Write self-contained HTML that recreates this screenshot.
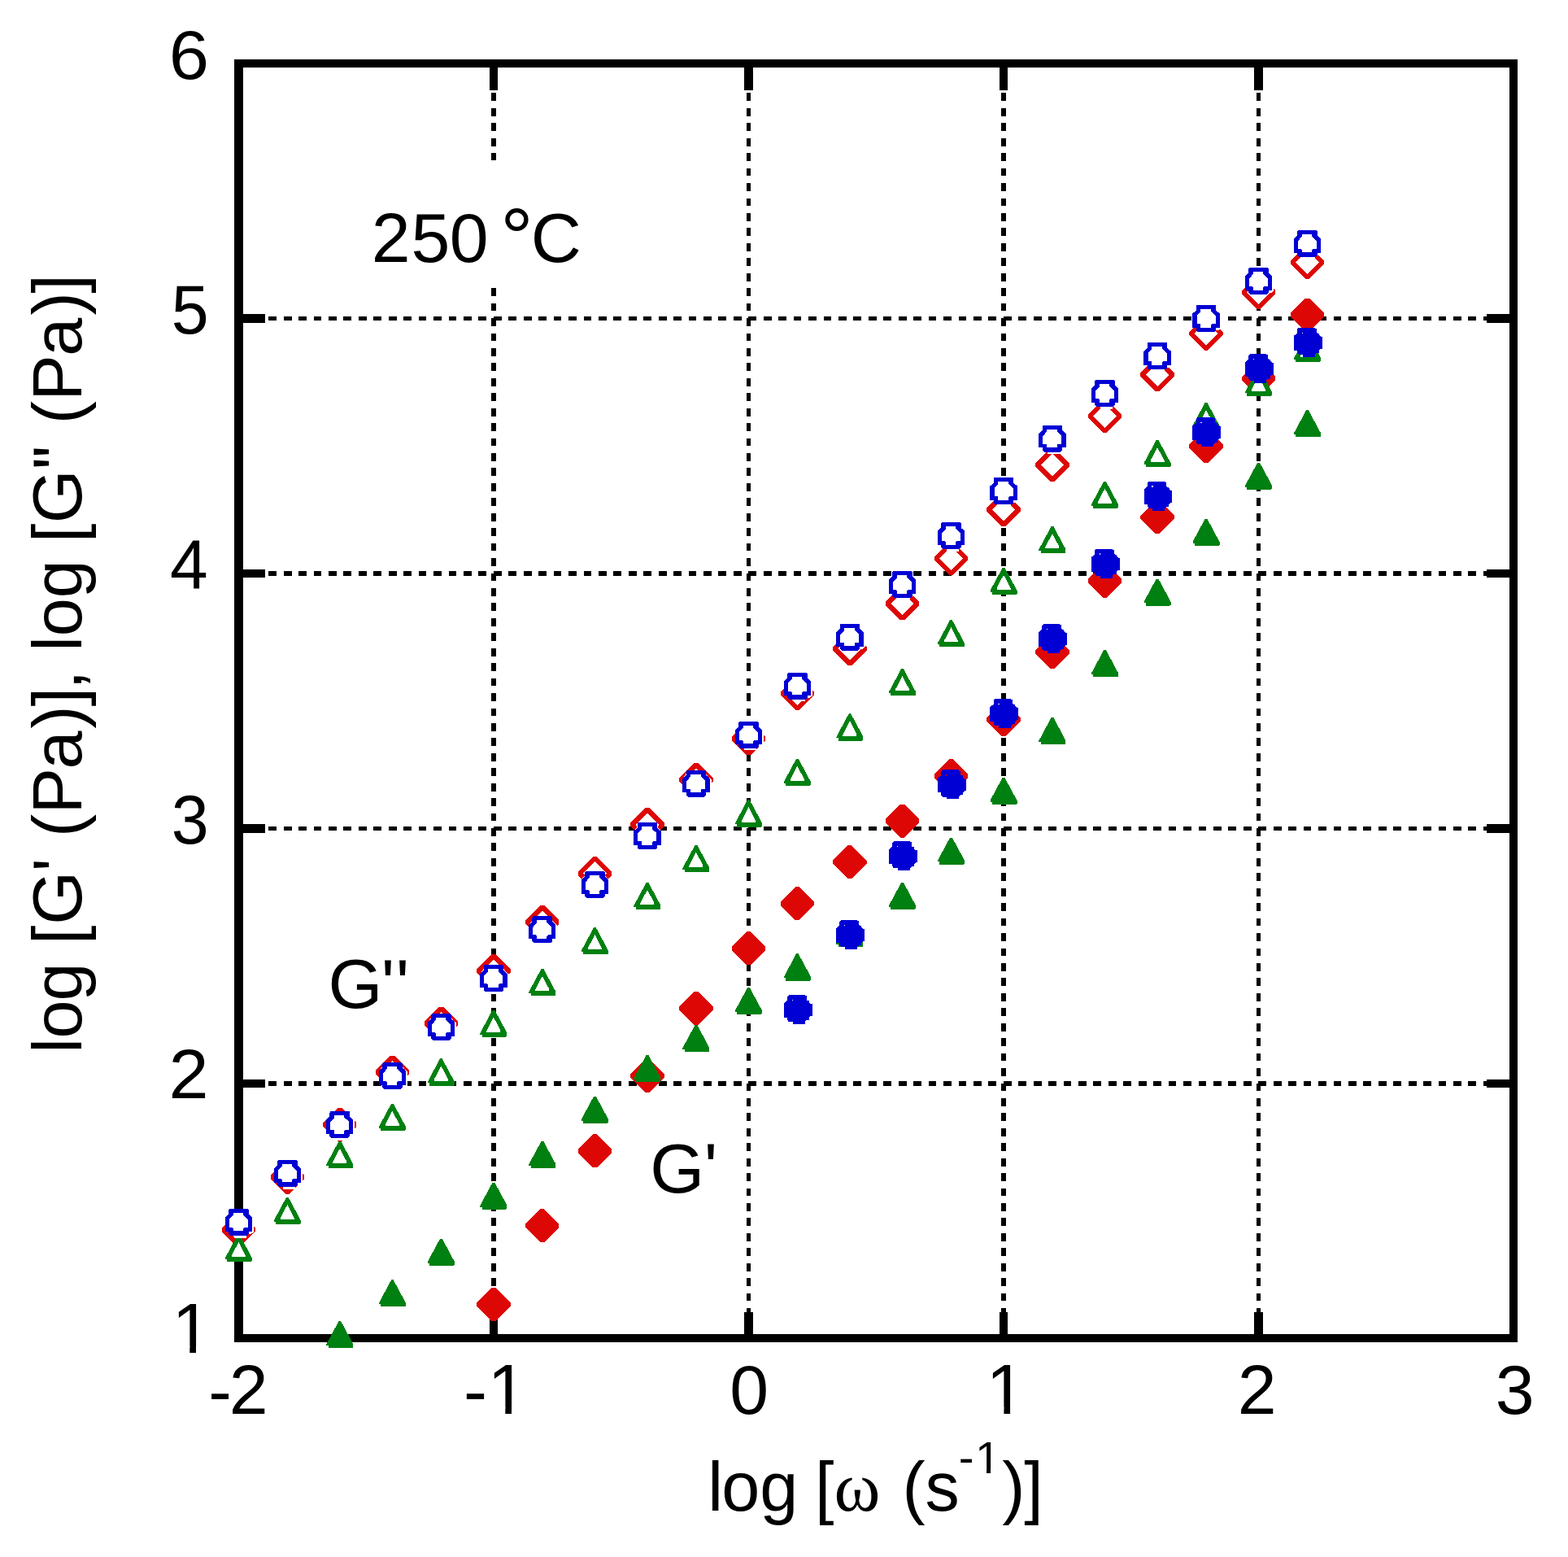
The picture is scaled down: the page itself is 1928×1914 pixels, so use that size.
<!DOCTYPE html>
<html lang="en">
<head>
<meta charset="utf-8">
<title>log G', log G'' versus log ω at 250 °C</title>
<style>
html,body{margin:0;padding:0;background:#fff;}
body{width:1928px;height:1914px;overflow:hidden;}
svg{display:block;}
text{font-family:'Liberation Sans', Arial, Helvetica, sans-serif;fill:#000;}
</style>
</head>
<body>
<svg width="1928" height="1914" viewBox="0 0 1928 1914" role="img" aria-label="log G' and log G'' versus log angular frequency at 250 °C">
<rect width="1928" height="1914" fill="#fff"/>
<g id="grid" stroke="#000" stroke-width="5.6" fill="none" shape-rendering="crispEdges">
<line x1="606.94" y1="77.59" x2="606.94" y2="1645.25" stroke-dasharray="9.8 8.64"/>
<line x1="920.49" y1="77.59" x2="920.49" y2="1645.25" stroke-dasharray="9.8 8.64"/>
<line x1="1234.04" y1="77.59" x2="1234.04" y2="1645.25" stroke-dasharray="9.8 8.64"/>
<line x1="1547.59" y1="77.59" x2="1547.59" y2="1645.25" stroke-dasharray="9.8 8.64"/>
<line x1="293.39" y1="391.61" x2="1861.13" y2="391.61" stroke-dasharray="9.8 8.64"/>
<line x1="293.39" y1="705.02" x2="1861.13" y2="705.02" stroke-dasharray="9.8 8.64"/>
<line x1="293.39" y1="1018.43" x2="1861.13" y2="1018.43" stroke-dasharray="9.8 8.64"/>
<line x1="293.39" y1="1331.84" x2="1861.13" y2="1331.84" stroke-dasharray="9.8 8.64"/>
</g>
<g id="axes" fill="#000" shape-rendering="crispEdges">
<rect x="288" y="73" width="11" height="1577"/>
<rect x="1856" y="73" width="10" height="1577"/>
<rect x="288" y="73" width="1578" height="10"/>
<rect x="288" y="1640" width="1578" height="10"/>
<rect x="601.74" y="83" width="10.4" height="28"/>
<rect x="601.74" y="1613" width="10.4" height="27"/>
<rect x="915.29" y="83" width="10.4" height="28"/>
<rect x="915.29" y="1613" width="10.4" height="27"/>
<rect x="1228.84" y="83" width="10.4" height="28"/>
<rect x="1228.84" y="1613" width="10.4" height="27"/>
<rect x="1542.38" y="83" width="10.4" height="28"/>
<rect x="1542.38" y="1613" width="10.4" height="27"/>
<rect x="299" y="386.41" width="27" height="10.4"/>
<rect x="1828" y="386.41" width="28" height="10.4"/>
<rect x="299" y="699.82" width="27" height="10.4"/>
<rect x="1828" y="699.82" width="28" height="10.4"/>
<rect x="299" y="1013.23" width="27" height="10.4"/>
<rect x="1828" y="1013.23" width="28" height="10.4"/>
<rect x="299" y="1326.64" width="27" height="10.4"/>
<rect x="1828" y="1326.64" width="28" height="10.4"/>
</g>
<rect x="440" y="197" width="300" height="157" fill="#fff"/>
<g id="markers" shape-rendering="crispEdges">
<g id="s-red-open"><path d="M290.99,1491.09L295.79,1491.09L313.99,1509.29L313.99,1513.89L295.79,1532.09L290.99,1532.09L272.79,1513.89L272.79,1509.29Z" fill="#fff"/><path d="M290.99,1491.09L295.79,1491.09L313.99,1509.29L313.99,1513.89L295.79,1532.09L290.99,1532.09L272.79,1513.89L272.79,1509.29ZM293.39,1497.29L307.69,1511.59L293.39,1525.89L279.09,1511.59Z" fill="#dd0806" fill-rule="evenodd"/><path d="M350.94,1426.57L355.74,1426.57L373.94,1444.77L373.94,1449.37L355.74,1467.57L350.94,1467.57L332.74,1449.37L332.74,1444.77Z" fill="#fff"/><path d="M350.94,1426.57L355.74,1426.57L373.94,1444.77L373.94,1449.37L355.74,1467.57L350.94,1467.57L332.74,1449.37L332.74,1444.77ZM353.34,1432.77L367.64,1447.07L353.34,1461.37L339.04,1447.07Z" fill="#dd0806" fill-rule="evenodd"/><path d="M415.49,1362.04L420.29,1362.04L438.49,1380.24L438.49,1384.84L420.29,1403.04L415.49,1403.04L397.29,1384.84L397.29,1380.24Z" fill="#fff"/><path d="M415.49,1362.04L420.29,1362.04L438.49,1380.24L438.49,1384.84L420.29,1403.04L415.49,1403.04L397.29,1384.84L397.29,1380.24ZM417.89,1368.24L432.19,1382.54L417.89,1396.84L403.59,1382.54Z" fill="#dd0806" fill-rule="evenodd"/><path d="M480.04,1297.52L484.84,1297.52L503.04,1315.72L503.04,1320.32L484.84,1338.52L480.04,1338.52L461.84,1320.32L461.84,1315.72Z" fill="#fff"/><path d="M480.04,1297.52L484.84,1297.52L503.04,1315.72L503.04,1320.32L484.84,1338.52L480.04,1338.52L461.84,1320.32L461.84,1315.72ZM482.44,1303.72L496.74,1318.02L482.44,1332.32L468.14,1318.02Z" fill="#dd0806" fill-rule="evenodd"/><path d="M539.99,1237.6L544.79,1237.6L562.99,1255.8L562.99,1260.4L544.79,1278.6L539.99,1278.6L521.79,1260.4L521.79,1255.8Z" fill="#fff"/><path d="M539.99,1237.6L544.79,1237.6L562.99,1255.8L562.99,1260.4L544.79,1278.6L539.99,1278.6L521.79,1260.4L521.79,1255.8ZM542.39,1243.8L556.69,1258.1L542.39,1272.4L528.09,1258.1Z" fill="#dd0806" fill-rule="evenodd"/><path d="M604.54,1173.07L609.34,1173.07L627.54,1191.27L627.54,1195.87L609.34,1214.07L604.54,1214.07L586.34,1195.87L586.34,1191.27Z" fill="#fff"/><path d="M604.54,1173.07L609.34,1173.07L627.54,1191.27L627.54,1195.87L609.34,1214.07L604.54,1214.07L586.34,1195.87L586.34,1191.27ZM606.94,1179.27L621.24,1193.57L606.94,1207.87L592.64,1193.57Z" fill="#dd0806" fill-rule="evenodd"/><path d="M664.48,1113.15L669.28,1113.15L687.48,1131.36L687.48,1135.95L669.28,1154.15L664.48,1154.15L646.28,1135.95L646.28,1131.36Z" fill="#fff"/><path d="M664.48,1113.15L669.28,1113.15L687.48,1131.36L687.48,1135.95L669.28,1154.15L664.48,1154.15L646.28,1135.95L646.28,1131.36ZM666.88,1119.36L681.18,1133.65L666.88,1147.95L652.58,1133.65Z" fill="#dd0806" fill-rule="evenodd"/><path d="M729.04,1053.24L733.84,1053.24L752.04,1071.44L752.04,1076.04L733.84,1094.24L729.04,1094.24L710.84,1076.04L710.84,1071.44Z" fill="#fff"/><path d="M729.04,1053.24L733.84,1053.24L752.04,1071.44L752.04,1076.04L733.84,1094.24L729.04,1094.24L710.84,1076.04L710.84,1071.44ZM731.44,1059.44L745.74,1073.74L731.44,1088.04L717.14,1073.74Z" fill="#dd0806" fill-rule="evenodd"/><path d="M793.59,993.32L798.39,993.32L816.59,1011.52L816.59,1016.12L798.39,1034.32L793.59,1034.32L775.39,1016.12L775.39,1011.52Z" fill="#fff"/><path d="M793.59,993.32L798.39,993.32L816.59,1011.52L816.59,1016.12L798.39,1034.32L793.59,1034.32L775.39,1016.12L775.39,1011.52ZM795.99,999.52L810.29,1013.82L795.99,1028.12L781.69,1013.82Z" fill="#dd0806" fill-rule="evenodd"/><path d="M853.53,938.01L858.33,938.01L876.53,956.21L876.53,960.81L858.33,979.01L853.53,979.01L835.33,960.81L835.33,956.21Z" fill="#fff"/><path d="M853.53,938.01L858.33,938.01L876.53,956.21L876.53,960.81L858.33,979.01L853.53,979.01L835.33,960.81L835.33,956.21ZM855.93,944.21L870.23,958.51L855.93,972.81L841.63,958.51Z" fill="#dd0806" fill-rule="evenodd"/><path d="M918.09,887.31L922.89,887.31L941.09,905.51L941.09,910.11L922.89,928.31L918.09,928.31L899.89,910.11L899.89,905.51Z" fill="#fff"/><path d="M918.09,887.31L922.89,887.31L941.09,905.51L941.09,910.11L922.89,928.31L918.09,928.31L899.89,910.11L899.89,905.51ZM920.49,893.51L934.79,907.81L920.49,922.11L906.19,907.81Z" fill="#dd0806" fill-rule="evenodd"/><path d="M978.03,832.01L982.83,832.01L1001.03,850.21L1001.03,854.81L982.83,873.01L978.03,873.01L959.83,854.81L959.83,850.21Z" fill="#fff"/><path d="M978.03,832.01L982.83,832.01L1001.03,850.21L1001.03,854.81L982.83,873.01L978.03,873.01L959.83,854.81L959.83,850.21ZM980.43,838.21L994.73,852.51L980.43,866.81L966.13,852.51Z" fill="#dd0806" fill-rule="evenodd"/><path d="M1042.59,776.7L1047.39,776.7L1065.59,794.9L1065.59,799.5L1047.39,817.7L1042.59,817.7L1024.39,799.5L1024.39,794.9Z" fill="#fff"/><path d="M1042.59,776.7L1047.39,776.7L1065.59,794.9L1065.59,799.5L1047.39,817.7L1042.59,817.7L1024.39,799.5L1024.39,794.9ZM1044.99,782.9L1059.29,797.2L1044.99,811.5L1030.69,797.2Z" fill="#dd0806" fill-rule="evenodd"/><path d="M1107.14,721.39L1111.94,721.39L1130.14,739.59L1130.14,744.19L1111.94,762.39L1107.14,762.39L1088.94,744.19L1088.94,739.59Z" fill="#fff"/><path d="M1107.14,721.39L1111.94,721.39L1130.14,739.59L1130.14,744.19L1111.94,762.39L1107.14,762.39L1088.94,744.19L1088.94,739.59ZM1109.54,727.59L1123.84,741.89L1109.54,756.19L1095.24,741.89Z" fill="#dd0806" fill-rule="evenodd"/><path d="M1167.08,666.08L1171.88,666.08L1190.08,684.28L1190.08,688.88L1171.88,707.08L1167.08,707.08L1148.88,688.88L1148.88,684.28Z" fill="#fff"/><path d="M1167.08,666.08L1171.88,666.08L1190.08,684.28L1190.08,688.88L1171.88,707.08L1167.08,707.08L1148.88,688.88L1148.88,684.28ZM1169.48,672.28L1183.78,686.58L1169.48,700.88L1155.18,686.58Z" fill="#dd0806" fill-rule="evenodd"/><path d="M1231.64,606.17L1236.44,606.17L1254.64,624.37L1254.64,628.97L1236.44,647.17L1231.64,647.17L1213.44,628.97L1213.44,624.37Z" fill="#fff"/><path d="M1231.64,606.17L1236.44,606.17L1254.64,624.37L1254.64,628.97L1236.44,647.17L1231.64,647.17L1213.44,628.97L1213.44,624.37ZM1234.04,612.37L1248.34,626.67L1234.04,640.97L1219.74,626.67Z" fill="#dd0806" fill-rule="evenodd"/><path d="M1291.58,550.86L1296.38,550.86L1314.58,569.06L1314.58,573.66L1296.38,591.86L1291.58,591.86L1273.38,573.66L1273.38,569.06Z" fill="#fff"/><path d="M1291.58,550.86L1296.38,550.86L1314.58,569.06L1314.58,573.66L1296.38,591.86L1291.58,591.86L1273.38,573.66L1273.38,569.06ZM1293.98,557.06L1308.28,571.36L1293.98,585.66L1279.68,571.36Z" fill="#dd0806" fill-rule="evenodd"/><path d="M1356.13,490.94L1360.93,490.94L1379.13,509.14L1379.13,513.74L1360.93,531.94L1356.13,531.94L1337.93,513.74L1337.93,509.14Z" fill="#fff"/><path d="M1356.13,490.94L1360.93,490.94L1379.13,509.14L1379.13,513.74L1360.93,531.94L1356.13,531.94L1337.93,513.74L1337.93,509.14ZM1358.53,497.14L1372.83,511.44L1358.53,525.74L1344.23,511.44Z" fill="#dd0806" fill-rule="evenodd"/><path d="M1420.69,440.24L1425.49,440.24L1443.69,458.44L1443.69,463.04L1425.49,481.24L1420.69,481.24L1402.49,463.04L1402.49,458.44Z" fill="#fff"/><path d="M1420.69,440.24L1425.49,440.24L1443.69,458.44L1443.69,463.04L1425.49,481.24L1420.69,481.24L1402.49,463.04L1402.49,458.44ZM1423.09,446.44L1437.39,460.74L1423.09,475.04L1408.79,460.74Z" fill="#dd0806" fill-rule="evenodd"/><path d="M1480.63,389.54L1485.43,389.54L1503.63,407.74L1503.63,412.34L1485.43,430.54L1480.63,430.54L1462.43,412.34L1462.43,407.74Z" fill="#fff"/><path d="M1480.63,389.54L1485.43,389.54L1503.63,407.74L1503.63,412.34L1485.43,430.54L1480.63,430.54L1462.43,412.34L1462.43,407.74ZM1483.03,395.74L1497.33,410.04L1483.03,424.34L1468.73,410.04Z" fill="#dd0806" fill-rule="evenodd"/><path d="M1545.18,338.84L1549.99,338.84L1568.18,357.04L1568.18,361.64L1549.99,379.84L1545.18,379.84L1526.99,361.64L1526.99,357.04Z" fill="#fff"/><path d="M1545.18,338.84L1549.99,338.84L1568.18,357.04L1568.18,361.64L1549.99,379.84L1545.18,379.84L1526.99,361.64L1526.99,357.04ZM1547.59,345.04L1561.88,359.34L1547.59,373.64L1533.29,359.34Z" fill="#dd0806" fill-rule="evenodd"/><path d="M1605.13,301.97L1609.93,301.97L1628.13,320.17L1628.13,324.77L1609.93,342.97L1605.13,342.97L1586.93,324.77L1586.93,320.17Z" fill="#fff"/><path d="M1605.13,301.97L1609.93,301.97L1628.13,320.17L1628.13,324.77L1609.93,342.97L1605.13,342.97L1586.93,324.77L1586.93,320.17ZM1607.53,308.17L1621.83,322.47L1607.53,336.77L1593.23,322.47Z" fill="#dd0806" fill-rule="evenodd"/></g>
<g id="s-red-fill"><path d="M604.54,1583.27L609.34,1583.27L627.54,1601.47L627.54,1606.07L609.34,1624.27L604.54,1624.27L586.34,1606.07L586.34,1601.47Z" fill="#dd0806"/><path d="M664.48,1486.48L669.28,1486.48L687.48,1504.68L687.48,1509.28L669.28,1527.48L664.48,1527.48L646.28,1509.28L646.28,1504.68Z" fill="#dd0806"/><path d="M729.04,1394.3L733.84,1394.3L752.04,1412.5L752.04,1417.1L733.84,1435.3L729.04,1435.3L710.84,1417.1L710.84,1412.5Z" fill="#dd0806"/><path d="M793.59,1302.12L798.39,1302.12L816.59,1320.32L816.59,1324.92L798.39,1343.12L793.59,1343.12L775.39,1324.92L775.39,1320.32Z" fill="#dd0806"/><path d="M853.53,1219.16L858.33,1219.16L876.53,1237.36L876.53,1241.96L858.33,1260.16L853.53,1260.16L835.33,1241.96L835.33,1237.36Z" fill="#dd0806"/><path d="M918.09,1145.42L922.89,1145.42L941.09,1163.62L941.09,1168.22L922.89,1186.42L918.09,1186.42L899.89,1168.22L899.89,1163.62Z" fill="#dd0806"/><path d="M978.03,1090.11L982.83,1090.11L1001.03,1108.31L1001.03,1112.91L982.83,1131.11L978.03,1131.11L959.83,1112.91L959.83,1108.31Z" fill="#dd0806"/><path d="M1042.59,1039.41L1047.39,1039.41L1065.59,1057.61L1065.59,1062.21L1047.39,1080.41L1042.59,1080.41L1024.39,1062.21L1024.39,1057.61Z" fill="#dd0806"/><path d="M1107.14,988.71L1111.94,988.71L1130.14,1006.91L1130.14,1011.51L1111.94,1029.71L1107.14,1029.71L1088.94,1011.51L1088.94,1006.91Z" fill="#dd0806"/><path d="M1167.08,933.4L1171.88,933.4L1190.08,951.6L1190.08,956.2L1171.88,974.4L1167.08,974.4L1148.88,956.2L1148.88,951.6Z" fill="#dd0806"/><path d="M1231.64,864.27L1236.44,864.27L1254.64,882.47L1254.64,887.07L1236.44,905.27L1231.64,905.27L1213.44,887.07L1213.44,882.47Z" fill="#dd0806"/><path d="M1291.58,781.31L1296.38,781.31L1314.58,799.51L1314.58,804.11L1296.38,822.31L1291.58,822.31L1273.38,804.11L1273.38,799.51Z" fill="#dd0806"/><path d="M1356.13,693.74L1360.93,693.74L1379.13,711.94L1379.13,716.54L1360.93,734.74L1356.13,734.74L1337.93,716.54L1337.93,711.94Z" fill="#dd0806"/><path d="M1420.69,615.38L1425.49,615.38L1443.69,633.58L1443.69,638.18L1425.49,656.38L1420.69,656.38L1402.49,638.18L1402.49,633.58Z" fill="#dd0806"/><path d="M1480.63,527.81L1485.43,527.81L1503.63,546.01L1503.63,550.61L1485.43,568.81L1480.63,568.81L1462.43,550.61L1462.43,546.01Z" fill="#dd0806"/><path d="M1545.18,444.85L1549.99,444.85L1568.18,463.05L1568.18,467.65L1549.99,485.85L1545.18,485.85L1526.99,467.65L1526.99,463.05Z" fill="#dd0806"/><path d="M1605.13,366.5L1609.93,366.5L1628.13,384.7L1628.13,389.3L1609.93,407.5L1605.13,407.5L1586.93,389.3L1586.93,384.7Z" fill="#dd0806"/></g>
<g id="s-green-open"><path d="M292.06,1518.1L294.72,1518.1L309.89,1546.34L309.89,1550.04L308.69,1551.18L279.09,1551.18L279.09,1548.04L276.89,1548.04L276.89,1546.34Z" fill="#fff"/><path d="M292.06,1518.1L294.72,1518.1L309.89,1546.34L309.89,1550.04L308.69,1551.18L279.09,1551.18L279.09,1548.04L276.89,1548.04L276.89,1546.34ZM293.39,1527.04L301.89,1543.34L301.89,1545.24L284.89,1545.24L284.89,1543.34Z" fill="#008011" fill-rule="evenodd"/><path d="M352.01,1472.01L354.67,1472.01L369.84,1500.25L369.84,1503.95L368.64,1505.09L339.04,1505.09L339.04,1501.95L336.84,1501.95L336.84,1500.25Z" fill="#fff"/><path d="M352.01,1472.01L354.67,1472.01L369.84,1500.25L369.84,1503.95L368.64,1505.09L339.04,1505.09L339.04,1501.95L336.84,1501.95L336.84,1500.25ZM353.34,1480.95L361.84,1497.25L361.84,1499.15L344.84,1499.15L344.84,1497.25Z" fill="#008011" fill-rule="evenodd"/><path d="M416.56,1402.87L419.22,1402.87L434.39,1431.11L434.39,1434.81L433.19,1435.95L403.59,1435.95L403.59,1432.81L401.39,1432.81L401.39,1431.11Z" fill="#fff"/><path d="M416.56,1402.87L419.22,1402.87L434.39,1431.11L434.39,1434.81L433.19,1435.95L403.59,1435.95L403.59,1432.81L401.39,1432.81L401.39,1431.11ZM417.89,1411.81L426.39,1428.11L426.39,1430.01L409.39,1430.01L409.39,1428.11Z" fill="#008011" fill-rule="evenodd"/><path d="M481.11,1356.78L483.77,1356.78L498.94,1385.02L498.94,1388.72L497.74,1389.86L468.14,1389.86L468.14,1386.72L465.94,1386.72L465.94,1385.02Z" fill="#fff"/><path d="M481.11,1356.78L483.77,1356.78L498.94,1385.02L498.94,1388.72L497.74,1389.86L468.14,1389.86L468.14,1386.72L465.94,1386.72L465.94,1385.02ZM482.44,1365.72L490.94,1382.02L490.94,1383.92L473.94,1383.92L473.94,1382.02Z" fill="#008011" fill-rule="evenodd"/><path d="M541.06,1301.48L543.72,1301.48L558.89,1329.72L558.89,1333.42L557.69,1334.56L528.09,1334.56L528.09,1331.42L525.89,1331.42L525.89,1329.72Z" fill="#fff"/><path d="M541.06,1301.48L543.72,1301.48L558.89,1329.72L558.89,1333.42L557.69,1334.56L528.09,1334.56L528.09,1331.42L525.89,1331.42L525.89,1329.72ZM542.39,1310.42L550.89,1326.72L550.89,1328.62L533.89,1328.62L533.89,1326.72Z" fill="#008011" fill-rule="evenodd"/><path d="M605.61,1241.56L608.27,1241.56L623.44,1269.8L623.44,1273.5L622.24,1274.64L592.64,1274.64L592.64,1271.5L590.44,1271.5L590.44,1269.8Z" fill="#fff"/><path d="M605.61,1241.56L608.27,1241.56L623.44,1269.8L623.44,1273.5L622.24,1274.64L592.64,1274.64L592.64,1271.5L590.44,1271.5L590.44,1269.8ZM606.94,1250.5L615.44,1266.8L615.44,1268.7L598.44,1268.7L598.44,1266.8Z" fill="#008011" fill-rule="evenodd"/><path d="M665.55,1190.86L668.21,1190.86L683.38,1219.1L683.38,1222.8L682.18,1223.94L652.58,1223.94L652.58,1220.8L650.38,1220.8L650.38,1219.1Z" fill="#fff"/><path d="M665.55,1190.86L668.21,1190.86L683.38,1219.1L683.38,1222.8L682.18,1223.94L652.58,1223.94L652.58,1220.8L650.38,1220.8L650.38,1219.1ZM666.88,1199.8L675.38,1216.1L675.38,1218L658.38,1218L658.38,1216.1Z" fill="#008011" fill-rule="evenodd"/><path d="M730.11,1140.16L732.77,1140.16L747.94,1168.4L747.94,1172.1L746.74,1173.24L717.14,1173.24L717.14,1170.1L714.94,1170.1L714.94,1168.4Z" fill="#fff"/><path d="M730.11,1140.16L732.77,1140.16L747.94,1168.4L747.94,1172.1L746.74,1173.24L717.14,1173.24L717.14,1170.1L714.94,1170.1L714.94,1168.4ZM731.44,1149.1L739.94,1165.4L739.94,1167.3L722.94,1167.3L722.94,1165.4Z" fill="#008011" fill-rule="evenodd"/><path d="M794.66,1084.85L797.32,1084.85L812.49,1113.09L812.49,1116.79L811.29,1117.93L781.69,1117.93L781.69,1114.79L779.49,1114.79L779.49,1113.09Z" fill="#fff"/><path d="M794.66,1084.85L797.32,1084.85L812.49,1113.09L812.49,1116.79L811.29,1117.93L781.69,1117.93L781.69,1114.79L779.49,1114.79L779.49,1113.09ZM795.99,1093.79L804.49,1110.09L804.49,1111.99L787.49,1111.99L787.49,1110.09Z" fill="#008011" fill-rule="evenodd"/><path d="M854.6,1038.76L857.26,1038.76L872.43,1067L872.43,1070.7L871.23,1071.84L841.63,1071.84L841.63,1068.7L839.43,1068.7L839.43,1067Z" fill="#fff"/><path d="M854.6,1038.76L857.26,1038.76L872.43,1067L872.43,1070.7L871.23,1071.84L841.63,1071.84L841.63,1068.7L839.43,1068.7L839.43,1067ZM855.93,1047.7L864.43,1064L864.43,1065.9L847.43,1065.9L847.43,1064Z" fill="#008011" fill-rule="evenodd"/><path d="M919.16,983.45L921.82,983.45L936.99,1011.69L936.99,1015.39L935.79,1016.53L906.19,1016.53L906.19,1013.39L903.99,1013.39L903.99,1011.69Z" fill="#fff"/><path d="M919.16,983.45L921.82,983.45L936.99,1011.69L936.99,1015.39L935.79,1016.53L906.19,1016.53L906.19,1013.39L903.99,1013.39L903.99,1011.69ZM920.49,992.39L928.99,1008.69L928.99,1010.59L911.99,1010.59L911.99,1008.69Z" fill="#008011" fill-rule="evenodd"/><path d="M979.1,932.76L981.76,932.76L996.93,961L996.93,964.7L995.73,965.84L966.13,965.84L966.13,962.7L963.93,962.7L963.93,961Z" fill="#fff"/><path d="M979.1,932.76L981.76,932.76L996.93,961L996.93,964.7L995.73,965.84L966.13,965.84L966.13,962.7L963.93,962.7L963.93,961ZM980.43,941.7L988.93,958L988.93,959.9L971.93,959.9L971.93,958Z" fill="#008011" fill-rule="evenodd"/><path d="M1043.66,877.45L1046.32,877.45L1061.49,905.69L1061.49,909.39L1060.29,910.53L1030.69,910.53L1030.69,907.39L1028.49,907.39L1028.49,905.69Z" fill="#fff"/><path d="M1043.66,877.45L1046.32,877.45L1061.49,905.69L1061.49,909.39L1060.29,910.53L1030.69,910.53L1030.69,907.39L1028.49,907.39L1028.49,905.69ZM1044.99,886.39L1053.49,902.69L1053.49,904.59L1036.49,904.59L1036.49,902.69Z" fill="#008011" fill-rule="evenodd"/><path d="M1108.21,822.14L1110.87,822.14L1126.04,850.38L1126.04,854.08L1124.84,855.22L1095.24,855.22L1095.24,852.08L1093.04,852.08L1093.04,850.38Z" fill="#fff"/><path d="M1108.21,822.14L1110.87,822.14L1126.04,850.38L1126.04,854.08L1124.84,855.22L1095.24,855.22L1095.24,852.08L1093.04,852.08L1093.04,850.38ZM1109.54,831.08L1118.04,847.38L1118.04,849.28L1101.04,849.28L1101.04,847.38Z" fill="#008011" fill-rule="evenodd"/><path d="M1168.15,762.22L1170.81,762.22L1185.98,790.46L1185.98,794.16L1184.78,795.3L1155.18,795.3L1155.18,792.16L1152.98,792.16L1152.98,790.46Z" fill="#fff"/><path d="M1168.15,762.22L1170.81,762.22L1185.98,790.46L1185.98,794.16L1184.78,795.3L1155.18,795.3L1155.18,792.16L1152.98,792.16L1152.98,790.46ZM1169.48,771.16L1177.98,787.46L1177.98,789.36L1160.98,789.36L1160.98,787.46Z" fill="#008011" fill-rule="evenodd"/><path d="M1232.71,697.7L1235.37,697.7L1250.54,725.94L1250.54,729.64L1249.34,730.78L1219.74,730.78L1219.74,727.64L1217.54,727.64L1217.54,725.94Z" fill="#fff"/><path d="M1232.71,697.7L1235.37,697.7L1250.54,725.94L1250.54,729.64L1249.34,730.78L1219.74,730.78L1219.74,727.64L1217.54,727.64L1217.54,725.94ZM1234.04,706.64L1242.54,722.94L1242.54,724.84L1225.54,724.84L1225.54,722.94Z" fill="#008011" fill-rule="evenodd"/><path d="M1292.65,647L1295.31,647L1310.48,675.24L1310.48,678.94L1309.28,680.08L1279.68,680.08L1279.68,676.94L1277.48,676.94L1277.48,675.24Z" fill="#fff"/><path d="M1292.65,647L1295.31,647L1310.48,675.24L1310.48,678.94L1309.28,680.08L1279.68,680.08L1279.68,676.94L1277.48,676.94L1277.48,675.24ZM1293.98,655.94L1302.48,672.24L1302.48,674.14L1285.48,674.14L1285.48,672.24Z" fill="#008011" fill-rule="evenodd"/><path d="M1357.2,591.69L1359.86,591.69L1375.03,619.93L1375.03,623.63L1373.83,624.77L1344.23,624.77L1344.23,621.63L1342.03,621.63L1342.03,619.93Z" fill="#fff"/><path d="M1357.2,591.69L1359.86,591.69L1375.03,619.93L1375.03,623.63L1373.83,624.77L1344.23,624.77L1344.23,621.63L1342.03,621.63L1342.03,619.93ZM1358.53,600.63L1367.03,616.93L1367.03,618.83L1350.03,618.83L1350.03,616.93Z" fill="#008011" fill-rule="evenodd"/><path d="M1421.76,540.99L1424.42,540.99L1439.59,569.23L1439.59,572.93L1438.39,574.07L1408.79,574.07L1408.79,570.93L1406.59,570.93L1406.59,569.23Z" fill="#fff"/><path d="M1421.76,540.99L1424.42,540.99L1439.59,569.23L1439.59,572.93L1438.39,574.07L1408.79,574.07L1408.79,570.93L1406.59,570.93L1406.59,569.23ZM1423.09,549.93L1431.59,566.23L1431.59,568.13L1414.59,568.13L1414.59,566.23Z" fill="#008011" fill-rule="evenodd"/><path d="M1481.7,494.9L1484.36,494.9L1499.53,523.14L1499.53,526.84L1498.33,527.98L1468.73,527.98L1468.73,524.84L1466.53,524.84L1466.53,523.14Z" fill="#fff"/><path d="M1481.7,494.9L1484.36,494.9L1499.53,523.14L1499.53,526.84L1498.33,527.98L1468.73,527.98L1468.73,524.84L1466.53,524.84L1466.53,523.14ZM1483.03,503.84L1491.53,520.14L1491.53,522.04L1474.53,522.04L1474.53,520.14Z" fill="#008011" fill-rule="evenodd"/><path d="M1546.26,453.42L1548.91,453.42L1564.09,481.66L1564.09,485.36L1562.88,486.5L1533.29,486.5L1533.29,483.36L1531.09,483.36L1531.09,481.66Z" fill="#fff"/><path d="M1546.26,453.42L1548.91,453.42L1564.09,481.66L1564.09,485.36L1562.88,486.5L1533.29,486.5L1533.29,483.36L1531.09,483.36L1531.09,481.66ZM1547.59,462.36L1556.09,478.66L1556.09,480.56L1539.09,480.56L1539.09,478.66Z" fill="#008011" fill-rule="evenodd"/><path d="M1606.2,411.94L1608.86,411.94L1624.03,440.18L1624.03,443.88L1622.83,445.02L1593.23,445.02L1593.23,441.88L1591.03,441.88L1591.03,440.18Z" fill="#fff"/><path d="M1606.2,411.94L1608.86,411.94L1624.03,440.18L1624.03,443.88L1622.83,445.02L1593.23,445.02L1593.23,441.88L1591.03,441.88L1591.03,440.18ZM1607.53,420.88L1616.03,437.18L1616.03,439.08L1599.03,439.08L1599.03,437.18Z" fill="#008011" fill-rule="evenodd"/></g>
<g id="s-green-fill"><path d="M416.56,1624.11L419.22,1624.11L434.39,1652.35L434.39,1656.05L433.19,1657.18L403.59,1657.18L403.59,1654.05L401.39,1654.05L401.39,1652.35Z" fill="#008011"/><path d="M481.11,1573.41L483.77,1573.41L498.94,1601.65L498.94,1605.35L497.74,1606.49L468.14,1606.49L468.14,1603.35L465.94,1603.35L465.94,1601.65Z" fill="#008011"/><path d="M541.06,1522.71L543.72,1522.71L558.89,1550.95L558.89,1554.65L557.69,1555.79L528.09,1555.79L528.09,1552.65L525.89,1552.65L525.89,1550.95Z" fill="#008011"/><path d="M605.61,1453.57L608.27,1453.57L623.44,1481.81L623.44,1485.51L622.24,1486.65L592.64,1486.65L592.64,1483.51L590.44,1483.51L590.44,1481.81Z" fill="#008011"/><path d="M665.55,1402.87L668.21,1402.87L683.38,1431.11L683.38,1434.81L682.18,1435.95L652.58,1435.95L652.58,1432.81L650.38,1432.81L650.38,1431.11Z" fill="#008011"/><path d="M730.11,1347.57L732.77,1347.57L747.94,1375.81L747.94,1379.51L746.74,1380.64L717.14,1380.64L717.14,1377.51L714.94,1377.51L714.94,1375.81Z" fill="#008011"/><path d="M794.66,1296.87L797.32,1296.87L812.49,1325.11L812.49,1328.81L811.29,1329.95L781.69,1329.95L781.69,1326.81L779.49,1326.81L779.49,1325.11Z" fill="#008011"/><path d="M854.6,1259.99L857.26,1259.99L872.43,1288.23L872.43,1291.93L871.23,1293.07L841.63,1293.07L841.63,1289.93L839.43,1289.93L839.43,1288.23Z" fill="#008011"/><path d="M919.16,1213.9L921.82,1213.9L936.99,1242.14L936.99,1245.84L935.79,1246.98L906.19,1246.98L906.19,1243.84L903.99,1243.84L903.99,1242.14Z" fill="#008011"/><path d="M979.1,1172.42L981.76,1172.42L996.93,1200.66L996.93,1204.36L995.73,1205.5L966.13,1205.5L966.13,1202.36L963.93,1202.36L963.93,1200.66Z" fill="#008011"/><path d="M1043.66,1130.94L1046.32,1130.94L1061.49,1159.18L1061.49,1162.88L1060.29,1164.02L1030.69,1164.02L1030.69,1160.88L1028.49,1160.88L1028.49,1159.18Z" fill="#008011"/><path d="M1108.21,1084.85L1110.87,1084.85L1126.04,1113.09L1126.04,1116.79L1124.84,1117.93L1095.24,1117.93L1095.24,1114.79L1093.04,1114.79L1093.04,1113.09Z" fill="#008011"/><path d="M1168.15,1029.54L1170.81,1029.54L1185.98,1057.78L1185.98,1061.48L1184.78,1062.62L1155.18,1062.62L1155.18,1059.48L1152.98,1059.48L1152.98,1057.78Z" fill="#008011"/><path d="M1232.71,955.8L1235.37,955.8L1250.54,984.04L1250.54,987.74L1249.34,988.88L1219.74,988.88L1219.74,985.74L1217.54,985.74L1217.54,984.04Z" fill="#008011"/><path d="M1292.65,882.06L1295.31,882.06L1310.48,910.3L1310.48,914L1309.28,915.14L1279.68,915.14L1279.68,912L1277.48,912L1277.48,910.3Z" fill="#008011"/><path d="M1357.2,799.09L1359.86,799.09L1375.03,827.33L1375.03,831.03L1373.83,832.17L1344.23,832.17L1344.23,829.03L1342.03,829.03L1342.03,827.33Z" fill="#008011"/><path d="M1421.76,711.52L1424.42,711.52L1439.59,739.76L1439.59,743.46L1438.39,744.6L1408.79,744.6L1408.79,741.46L1406.59,741.46L1406.59,739.76Z" fill="#008011"/><path d="M1481.7,637.78L1484.36,637.78L1499.53,666.02L1499.53,669.72L1498.33,670.86L1468.73,670.86L1468.73,667.72L1466.53,667.72L1466.53,666.02Z" fill="#008011"/><path d="M1546.26,568.64L1548.91,568.64L1564.09,596.88L1564.09,600.58L1562.88,601.72L1533.29,601.72L1533.29,598.58L1531.09,598.58L1531.09,596.88Z" fill="#008011"/><path d="M1606.2,504.12L1608.86,504.12L1624.03,532.36L1624.03,536.06L1622.83,537.2L1593.23,537.2L1593.23,534.06L1591.03,534.06L1591.03,532.36Z" fill="#008011"/></g>
<g id="s-blue-open"><path d="M283.39,1487.38L303.39,1487.38L308.39,1494.38L311.99,1496.97L311.99,1514.38L308.89,1516.88L304.89,1516.88L302.69,1518.88L302.69,1521.58L287.89,1521.58L287.89,1517.38L278.39,1512.38L278.39,1494.38Z" fill="#fff"/><path d="M281.99,1485.88L304.79,1485.88L305.79,1487.38L305.79,1492.38L309.99,1496.28L309.99,1513.67L305.79,1513.67L305.79,1516.38L303.39,1518.88L283.39,1518.88L280.99,1516.38L280.99,1513.67L276.79,1513.67L276.79,1496.28L280.99,1492.38L280.99,1487.38ZM286.79,1490.88L298.99,1490.88L298.99,1493.38L304.89,1499.17L304.89,1508.88L300.39,1508.88L298.99,1510.28L298.99,1513.38L286.79,1513.38L286.79,1510.28L285.69,1508.88L281.89,1508.88L281.89,1499.17L286.79,1493.67Z" fill="#0000d4" fill-rule="evenodd"/><path d="M343.34,1427.46L363.34,1427.46L368.34,1434.46L371.94,1437.06L371.94,1454.46L368.84,1456.96L364.84,1456.96L362.64,1458.96L362.64,1461.66L347.84,1461.66L347.84,1457.46L338.34,1452.46L338.34,1434.46Z" fill="#fff"/><path d="M341.94,1425.96L364.74,1425.96L365.74,1427.46L365.74,1432.46L369.94,1436.36L369.94,1453.76L365.74,1453.76L365.74,1456.46L363.34,1458.96L343.34,1458.96L340.94,1456.46L340.94,1453.76L336.74,1453.76L336.74,1436.36L340.94,1432.46L340.94,1427.46ZM346.74,1430.96L358.94,1430.96L358.94,1433.46L364.84,1439.26L364.84,1448.96L360.34,1448.96L358.94,1450.36L358.94,1453.46L346.74,1453.46L346.74,1450.36L345.64,1448.96L341.84,1448.96L341.84,1439.26L346.74,1433.76Z" fill="#0000d4" fill-rule="evenodd"/><path d="M407.89,1367.54L427.89,1367.54L432.89,1374.54L436.49,1377.14L436.49,1394.54L433.39,1397.04L429.39,1397.04L427.19,1399.04L427.19,1401.74L412.39,1401.74L412.39,1397.54L402.89,1392.54L402.89,1374.54Z" fill="#fff"/><path d="M406.49,1366.04L429.29,1366.04L430.29,1367.54L430.29,1372.54L434.49,1376.44L434.49,1393.84L430.29,1393.84L430.29,1396.54L427.89,1399.04L407.89,1399.04L405.49,1396.54L405.49,1393.84L401.29,1393.84L401.29,1376.44L405.49,1372.54L405.49,1367.54ZM411.29,1371.04L423.49,1371.04L423.49,1373.54L429.39,1379.34L429.39,1389.04L424.89,1389.04L423.49,1390.44L423.49,1393.54L411.29,1393.54L411.29,1390.44L410.19,1389.04L406.39,1389.04L406.39,1379.34L411.29,1373.84Z" fill="#0000d4" fill-rule="evenodd"/><path d="M472.44,1307.62L492.44,1307.62L497.44,1314.62L501.04,1317.22L501.04,1334.62L497.94,1337.12L493.94,1337.12L491.74,1339.12L491.74,1341.82L476.94,1341.82L476.94,1337.62L467.44,1332.62L467.44,1314.62Z" fill="#fff"/><path d="M471.04,1306.12L493.84,1306.12L494.84,1307.62L494.84,1312.62L499.04,1316.52L499.04,1333.92L494.84,1333.92L494.84,1336.62L492.44,1339.12L472.44,1339.12L470.04,1336.62L470.04,1333.92L465.84,1333.92L465.84,1316.52L470.04,1312.62L470.04,1307.62ZM475.84,1311.12L488.04,1311.12L488.04,1313.62L493.94,1319.42L493.94,1329.12L489.44,1329.12L488.04,1330.52L488.04,1333.62L475.84,1333.62L475.84,1330.52L474.74,1329.12L470.94,1329.12L470.94,1319.42L475.84,1313.92Z" fill="#0000d4" fill-rule="evenodd"/><path d="M532.39,1247.71L552.39,1247.71L557.39,1254.71L560.99,1257.31L560.99,1274.71L557.89,1277.21L553.89,1277.21L551.69,1279.21L551.69,1281.91L536.89,1281.91L536.89,1277.71L527.39,1272.71L527.39,1254.71Z" fill="#fff"/><path d="M530.99,1246.21L553.79,1246.21L554.79,1247.71L554.79,1252.71L558.99,1256.61L558.99,1274.01L554.79,1274.01L554.79,1276.71L552.39,1279.21L532.39,1279.21L529.99,1276.71L529.99,1274.01L525.79,1274.01L525.79,1256.61L529.99,1252.71L529.99,1247.71ZM535.79,1251.21L547.99,1251.21L547.99,1253.71L553.89,1259.51L553.89,1269.21L549.39,1269.21L547.99,1270.61L547.99,1273.71L535.79,1273.71L535.79,1270.61L534.69,1269.21L530.89,1269.21L530.89,1259.51L535.79,1254.01Z" fill="#0000d4" fill-rule="evenodd"/><path d="M596.94,1187.79L616.94,1187.79L621.94,1194.79L625.54,1197.39L625.54,1214.79L622.44,1217.29L618.44,1217.29L616.24,1219.29L616.24,1221.99L601.44,1221.99L601.44,1217.79L591.94,1212.79L591.94,1194.79Z" fill="#fff"/><path d="M595.54,1186.29L618.34,1186.29L619.34,1187.79L619.34,1192.79L623.54,1196.69L623.54,1214.09L619.34,1214.09L619.34,1216.79L616.94,1219.29L596.94,1219.29L594.54,1216.79L594.54,1214.09L590.34,1214.09L590.34,1196.69L594.54,1192.79L594.54,1187.79ZM600.34,1191.29L612.54,1191.29L612.54,1193.79L618.44,1199.59L618.44,1209.29L613.94,1209.29L612.54,1210.69L612.54,1213.79L600.34,1213.79L600.34,1210.69L599.24,1209.29L595.44,1209.29L595.44,1199.59L600.34,1194.09Z" fill="#0000d4" fill-rule="evenodd"/><path d="M656.88,1127.87L676.88,1127.87L681.88,1134.87L685.48,1137.47L685.48,1154.87L682.38,1157.37L678.38,1157.37L676.18,1159.37L676.18,1162.07L661.38,1162.07L661.38,1157.87L651.88,1152.87L651.88,1134.87Z" fill="#fff"/><path d="M655.48,1126.37L678.28,1126.37L679.28,1127.87L679.28,1132.87L683.48,1136.77L683.48,1154.17L679.28,1154.17L679.28,1156.87L676.88,1159.37L656.88,1159.37L654.48,1156.87L654.48,1154.17L650.28,1154.17L650.28,1136.77L654.48,1132.87L654.48,1127.87ZM660.28,1131.37L672.48,1131.37L672.48,1133.87L678.38,1139.67L678.38,1149.37L673.88,1149.37L672.48,1150.77L672.48,1153.87L660.28,1153.87L660.28,1150.77L659.18,1149.37L655.38,1149.37L655.38,1139.67L660.28,1134.17Z" fill="#0000d4" fill-rule="evenodd"/><path d="M721.44,1072.57L741.44,1072.57L746.44,1079.57L750.04,1082.16L750.04,1099.57L746.94,1102.07L742.94,1102.07L740.74,1104.07L740.74,1106.77L725.94,1106.77L725.94,1102.57L716.44,1097.57L716.44,1079.57Z" fill="#fff"/><path d="M720.04,1071.07L742.84,1071.07L743.84,1072.57L743.84,1077.57L748.04,1081.47L748.04,1098.87L743.84,1098.87L743.84,1101.57L741.44,1104.07L721.44,1104.07L719.04,1101.57L719.04,1098.87L714.84,1098.87L714.84,1081.47L719.04,1077.57L719.04,1072.57ZM724.84,1076.07L737.04,1076.07L737.04,1078.57L742.94,1084.37L742.94,1094.07L738.44,1094.07L737.04,1095.47L737.04,1098.57L724.84,1098.57L724.84,1095.47L723.74,1094.07L719.94,1094.07L719.94,1084.37L724.84,1078.87Z" fill="#0000d4" fill-rule="evenodd"/><path d="M785.99,1012.65L805.99,1012.65L810.99,1019.65L814.59,1022.25L814.59,1039.65L811.49,1042.15L807.49,1042.15L805.29,1044.15L805.29,1046.85L790.49,1046.85L790.49,1042.65L780.99,1037.65L780.99,1019.65Z" fill="#fff"/><path d="M784.59,1011.15L807.39,1011.15L808.39,1012.65L808.39,1017.65L812.59,1021.55L812.59,1038.95L808.39,1038.95L808.39,1041.65L805.99,1044.15L785.99,1044.15L783.59,1041.65L783.59,1038.95L779.39,1038.95L779.39,1021.55L783.59,1017.65L783.59,1012.65ZM789.39,1016.15L801.59,1016.15L801.59,1018.65L807.49,1024.45L807.49,1034.15L802.99,1034.15L801.59,1035.55L801.59,1038.65L789.39,1038.65L789.39,1035.55L788.29,1034.15L784.49,1034.15L784.49,1024.45L789.39,1018.95Z" fill="#0000d4" fill-rule="evenodd"/><path d="M845.93,948.12L865.93,948.12L870.93,955.12L874.53,957.72L874.53,975.12L871.43,977.62L867.43,977.62L865.23,979.62L865.23,982.32L850.43,982.32L850.43,978.12L840.93,973.12L840.93,955.12Z" fill="#fff"/><path d="M844.53,946.62L867.33,946.62L868.33,948.12L868.33,953.12L872.53,957.02L872.53,974.42L868.33,974.42L868.33,977.12L865.93,979.62L845.93,979.62L843.53,977.12L843.53,974.42L839.33,974.42L839.33,957.02L843.53,953.12L843.53,948.12ZM849.33,951.62L861.53,951.62L861.53,954.12L867.43,959.92L867.43,969.62L862.93,969.62L861.53,971.02L861.53,974.12L849.33,974.12L849.33,971.02L848.23,969.62L844.43,969.62L844.43,959.92L849.33,954.42Z" fill="#0000d4" fill-rule="evenodd"/><path d="M910.49,888.21L930.49,888.21L935.49,895.21L939.09,897.81L939.09,915.21L935.99,917.71L931.99,917.71L929.79,919.71L929.79,922.41L914.99,922.41L914.99,918.21L905.49,913.21L905.49,895.21Z" fill="#fff"/><path d="M909.09,886.71L931.89,886.71L932.89,888.21L932.89,893.21L937.09,897.11L937.09,914.5L932.89,914.5L932.89,917.21L930.49,919.71L910.49,919.71L908.09,917.21L908.09,914.5L903.89,914.5L903.89,897.11L908.09,893.21L908.09,888.21ZM913.89,891.71L926.09,891.71L926.09,894.21L931.99,900L931.99,909.71L927.49,909.71L926.09,911.11L926.09,914.21L913.89,914.21L913.89,911.11L912.79,909.71L908.99,909.71L908.99,900L913.89,894.5Z" fill="#0000d4" fill-rule="evenodd"/><path d="M970.43,828.29L990.43,828.29L995.43,835.29L999.03,837.89L999.03,855.29L995.93,857.79L991.93,857.79L989.73,859.79L989.73,862.49L974.93,862.49L974.93,858.29L965.43,853.29L965.43,835.29Z" fill="#fff"/><path d="M969.03,826.79L991.83,826.79L992.83,828.29L992.83,833.29L997.03,837.19L997.03,854.59L992.83,854.59L992.83,857.29L990.43,859.79L970.43,859.79L968.03,857.29L968.03,854.59L963.83,854.59L963.83,837.19L968.03,833.29L968.03,828.29ZM973.83,831.79L986.03,831.79L986.03,834.29L991.93,840.09L991.93,849.79L987.43,849.79L986.03,851.19L986.03,854.29L973.83,854.29L973.83,851.19L972.73,849.79L968.93,849.79L968.93,840.09L973.83,834.59Z" fill="#0000d4" fill-rule="evenodd"/><path d="M1034.99,768.37L1054.99,768.37L1059.99,775.37L1063.59,777.97L1063.59,795.37L1060.49,797.87L1056.49,797.87L1054.29,799.87L1054.29,802.57L1039.49,802.57L1039.49,798.37L1029.99,793.37L1029.99,775.37Z" fill="#fff"/><path d="M1033.59,766.87L1056.39,766.87L1057.39,768.37L1057.39,773.37L1061.59,777.27L1061.59,794.67L1057.39,794.67L1057.39,797.37L1054.99,799.87L1034.99,799.87L1032.59,797.37L1032.59,794.67L1028.39,794.67L1028.39,777.27L1032.59,773.37L1032.59,768.37ZM1038.39,771.87L1050.59,771.87L1050.59,774.37L1056.49,780.17L1056.49,789.87L1051.99,789.87L1050.59,791.27L1050.59,794.37L1038.39,794.37L1038.39,791.27L1037.29,789.87L1033.49,789.87L1033.49,780.17L1038.39,774.67Z" fill="#0000d4" fill-rule="evenodd"/><path d="M1099.54,703.85L1119.54,703.85L1124.54,710.85L1128.14,713.45L1128.14,730.85L1125.04,733.35L1121.04,733.35L1118.84,735.35L1118.84,738.05L1104.04,738.05L1104.04,733.85L1094.54,728.85L1094.54,710.85Z" fill="#fff"/><path d="M1098.14,702.35L1120.94,702.35L1121.94,703.85L1121.94,708.85L1126.14,712.75L1126.14,730.14L1121.94,730.14L1121.94,732.85L1119.54,735.35L1099.54,735.35L1097.14,732.85L1097.14,730.14L1092.94,730.14L1092.94,712.75L1097.14,708.85L1097.14,703.85ZM1102.94,707.35L1115.14,707.35L1115.14,709.85L1121.04,715.64L1121.04,725.35L1116.54,725.35L1115.14,726.75L1115.14,729.85L1102.94,729.85L1102.94,726.75L1101.84,725.35L1098.04,725.35L1098.04,715.64L1102.94,710.14Z" fill="#0000d4" fill-rule="evenodd"/><path d="M1159.48,643.93L1179.48,643.93L1184.48,650.93L1188.08,653.53L1188.08,670.93L1184.98,673.43L1180.98,673.43L1178.78,675.43L1178.78,678.13L1163.98,678.13L1163.98,673.93L1154.48,668.93L1154.48,650.93Z" fill="#fff"/><path d="M1158.08,642.43L1180.88,642.43L1181.88,643.93L1181.88,648.93L1186.08,652.83L1186.08,670.23L1181.88,670.23L1181.88,672.93L1179.48,675.43L1159.48,675.43L1157.08,672.93L1157.08,670.23L1152.88,670.23L1152.88,652.83L1157.08,648.93L1157.08,643.93ZM1162.88,647.43L1175.08,647.43L1175.08,649.93L1180.98,655.73L1180.98,665.43L1176.48,665.43L1175.08,666.83L1175.08,669.93L1162.88,669.93L1162.88,666.83L1161.78,665.43L1157.98,665.43L1157.98,655.73L1162.88,650.23Z" fill="#0000d4" fill-rule="evenodd"/><path d="M1224.04,588.62L1244.04,588.62L1249.04,595.62L1252.64,598.22L1252.64,615.62L1249.54,618.12L1245.54,618.12L1243.34,620.12L1243.34,622.82L1228.54,622.82L1228.54,618.62L1219.04,613.62L1219.04,595.62Z" fill="#fff"/><path d="M1222.64,587.12L1245.44,587.12L1246.44,588.62L1246.44,593.62L1250.64,597.52L1250.64,614.92L1246.44,614.92L1246.44,617.62L1244.04,620.12L1224.04,620.12L1221.64,617.62L1221.64,614.92L1217.44,614.92L1217.44,597.52L1221.64,593.62L1221.64,588.62ZM1227.44,592.12L1239.64,592.12L1239.64,594.62L1245.54,600.42L1245.54,610.12L1241.04,610.12L1239.64,611.52L1239.64,614.62L1227.44,614.62L1227.44,611.52L1226.34,610.12L1222.54,610.12L1222.54,600.42L1227.44,594.92Z" fill="#0000d4" fill-rule="evenodd"/><path d="M1283.98,524.09L1303.98,524.09L1308.98,531.09L1312.58,533.69L1312.58,551.09L1309.48,553.59L1305.48,553.59L1303.28,555.59L1303.28,558.29L1288.48,558.29L1288.48,554.09L1278.98,549.09L1278.98,531.09Z" fill="#fff"/><path d="M1282.58,522.59L1305.38,522.59L1306.38,524.09L1306.38,529.09L1310.58,532.99L1310.58,550.39L1306.38,550.39L1306.38,553.09L1303.98,555.59L1283.98,555.59L1281.58,553.09L1281.58,550.39L1277.38,550.39L1277.38,532.99L1281.58,529.09L1281.58,524.09ZM1287.38,527.59L1299.58,527.59L1299.58,530.09L1305.48,535.89L1305.48,545.59L1300.98,545.59L1299.58,546.99L1299.58,550.09L1287.38,550.09L1287.38,546.99L1286.28,545.59L1282.48,545.59L1282.48,535.89L1287.38,530.39Z" fill="#0000d4" fill-rule="evenodd"/><path d="M1348.53,468.79L1368.53,468.79L1373.53,475.79L1377.13,478.39L1377.13,495.79L1374.03,498.29L1370.03,498.29L1367.83,500.29L1367.83,502.99L1353.03,502.99L1353.03,498.79L1343.53,493.79L1343.53,475.79Z" fill="#fff"/><path d="M1347.13,467.29L1369.93,467.29L1370.93,468.79L1370.93,473.79L1375.13,477.69L1375.13,495.09L1370.93,495.09L1370.93,497.79L1368.53,500.29L1348.53,500.29L1346.13,497.79L1346.13,495.09L1341.93,495.09L1341.93,477.69L1346.13,473.79L1346.13,468.79ZM1351.93,472.29L1364.13,472.29L1364.13,474.79L1370.03,480.59L1370.03,490.29L1365.53,490.29L1364.13,491.69L1364.13,494.79L1351.93,494.79L1351.93,491.69L1350.83,490.29L1347.03,490.29L1347.03,480.59L1351.93,475.09Z" fill="#0000d4" fill-rule="evenodd"/><path d="M1413.09,422.7L1433.09,422.7L1438.09,429.7L1441.69,432.3L1441.69,449.7L1438.59,452.2L1434.59,452.2L1432.39,454.2L1432.39,456.9L1417.59,456.9L1417.59,452.7L1408.09,447.7L1408.09,429.7Z" fill="#fff"/><path d="M1411.69,421.2L1434.49,421.2L1435.49,422.7L1435.49,427.7L1439.69,431.6L1439.69,449L1435.49,449L1435.49,451.7L1433.09,454.2L1413.09,454.2L1410.69,451.7L1410.69,449L1406.49,449L1406.49,431.6L1410.69,427.7L1410.69,422.7ZM1416.49,426.2L1428.69,426.2L1428.69,428.7L1434.59,434.5L1434.59,444.2L1430.09,444.2L1428.69,445.6L1428.69,448.7L1416.49,448.7L1416.49,445.6L1415.39,444.2L1411.59,444.2L1411.59,434.5L1416.49,429Z" fill="#0000d4" fill-rule="evenodd"/><path d="M1473.03,376.61L1493.03,376.61L1498.03,383.61L1501.63,386.21L1501.63,403.61L1498.53,406.11L1494.53,406.11L1492.33,408.11L1492.33,410.81L1477.53,410.81L1477.53,406.61L1468.03,401.61L1468.03,383.61Z" fill="#fff"/><path d="M1471.63,375.11L1494.43,375.11L1495.43,376.61L1495.43,381.61L1499.63,385.51L1499.63,402.91L1495.43,402.91L1495.43,405.61L1493.03,408.11L1473.03,408.11L1470.63,405.61L1470.63,402.91L1466.43,402.91L1466.43,385.51L1470.63,381.61L1470.63,376.61ZM1476.43,380.11L1488.63,380.11L1488.63,382.61L1494.53,388.41L1494.53,398.11L1490.03,398.11L1488.63,399.51L1488.63,402.61L1476.43,402.61L1476.43,399.51L1475.33,398.11L1471.53,398.11L1471.53,388.41L1476.43,382.91Z" fill="#0000d4" fill-rule="evenodd"/><path d="M1537.59,330.52L1557.59,330.52L1562.59,337.52L1566.18,340.12L1566.18,357.52L1563.09,360.02L1559.09,360.02L1556.88,362.02L1556.88,364.72L1542.09,364.72L1542.09,360.52L1532.59,355.52L1532.59,337.52Z" fill="#fff"/><path d="M1536.18,329.02L1558.99,329.02L1559.99,330.52L1559.99,335.52L1564.18,339.42L1564.18,356.82L1559.99,356.82L1559.99,359.52L1557.59,362.02L1537.59,362.02L1535.18,359.52L1535.18,356.82L1530.99,356.82L1530.99,339.42L1535.18,335.52L1535.18,330.52ZM1540.99,334.02L1553.18,334.02L1553.18,336.52L1559.09,342.32L1559.09,352.02L1554.59,352.02L1553.18,353.42L1553.18,356.52L1540.99,356.52L1540.99,353.42L1539.88,352.02L1536.09,352.02L1536.09,342.32L1540.99,336.82Z" fill="#0000d4" fill-rule="evenodd"/><path d="M1597.53,284.43L1617.53,284.43L1622.53,291.43L1626.13,294.03L1626.13,311.43L1623.03,313.93L1619.03,313.93L1616.83,315.93L1616.83,318.63L1602.03,318.63L1602.03,314.43L1592.53,309.43L1592.53,291.43Z" fill="#fff"/><path d="M1596.13,282.93L1618.93,282.93L1619.93,284.43L1619.93,289.43L1624.13,293.33L1624.13,310.73L1619.93,310.73L1619.93,313.43L1617.53,315.93L1597.53,315.93L1595.13,313.43L1595.13,310.73L1590.93,310.73L1590.93,293.33L1595.13,289.43L1595.13,284.43ZM1600.93,287.93L1613.13,287.93L1613.13,290.43L1619.03,296.23L1619.03,305.93L1614.53,305.93L1613.13,307.33L1613.13,310.43L1600.93,310.43L1600.93,307.33L1599.83,305.93L1596.03,305.93L1596.03,296.23L1600.93,290.73Z" fill="#0000d4" fill-rule="evenodd"/></g>
<g id="s-blue-fill"><path d="M969.97,1223.02L989.72,1223.02L989.87,1224.05L991.75,1224.05L991.75,1228.91L992.85,1230.01L994.73,1230.01L994.73,1231.73L996.93,1234.24L998.8,1234.24L998.8,1248.97L996.93,1248.97L994.73,1251.17L994.73,1253.99L991.91,1253.99L989.72,1256.18L989.72,1259L974.83,1259L974.83,1256.18L969.97,1256.18L967.93,1253.83L967.93,1251.01L963.86,1251.01L963.86,1233.3L967.93,1229.85L967.93,1225.31ZM973.63,1228.91L974.93,1228.91L974.93,1230.21L973.63,1230.21Z" fill="#0000d4" fill-rule="evenodd"/><path d="M1034.53,1130.84L1054.28,1130.84L1054.43,1131.87L1056.31,1131.87L1056.31,1136.73L1057.41,1137.83L1059.29,1137.83L1059.29,1139.55L1061.49,1142.06L1063.36,1142.06L1063.36,1156.79L1061.49,1156.79L1059.29,1158.99L1059.29,1161.81L1056.47,1161.81L1054.28,1164L1054.28,1166.82L1039.39,1166.82L1039.39,1164L1034.53,1164L1032.49,1161.65L1032.49,1158.83L1028.42,1158.83L1028.42,1141.12L1032.49,1137.67L1032.49,1133.13ZM1038.19,1136.73L1039.49,1136.73L1039.49,1138.03L1038.19,1138.03Z" fill="#0000d4" fill-rule="evenodd"/><path d="M1099.08,1034.05L1118.83,1034.05L1118.98,1035.08L1120.86,1035.08L1120.86,1039.94L1121.96,1041.04L1123.84,1041.04L1123.84,1042.76L1126.04,1045.27L1127.91,1045.27L1127.91,1060L1126.04,1060L1123.84,1062.2L1123.84,1065.02L1121.02,1065.02L1118.83,1067.21L1118.83,1070.03L1103.94,1070.03L1103.94,1067.21L1099.08,1067.21L1097.04,1064.86L1097.04,1062.04L1092.97,1062.04L1092.97,1044.33L1097.04,1040.88L1097.04,1036.34ZM1102.74,1039.94L1104.04,1039.94L1104.04,1041.24L1102.74,1041.24Z" fill="#0000d4" fill-rule="evenodd"/><path d="M1159.02,946.48L1178.77,946.48L1178.92,947.51L1180.8,947.51L1180.8,952.37L1181.9,953.47L1183.78,953.47L1183.78,955.19L1185.98,957.7L1187.85,957.7L1187.85,972.43L1185.98,972.43L1183.78,974.63L1183.78,977.45L1180.96,977.45L1178.77,979.64L1178.77,982.46L1163.88,982.46L1163.88,979.64L1159.02,979.64L1156.98,977.29L1156.98,974.47L1152.91,974.47L1152.91,956.76L1156.98,953.31L1156.98,948.77ZM1162.68,952.37L1163.98,952.37L1163.98,953.67L1162.68,953.67Z" fill="#0000d4" fill-rule="evenodd"/><path d="M1223.58,858.91L1243.33,858.91L1243.48,859.94L1245.36,859.94L1245.36,864.8L1246.46,865.9L1248.34,865.9L1248.34,867.62L1250.54,870.13L1252.41,870.13L1252.41,884.86L1250.54,884.86L1248.34,887.06L1248.34,889.88L1245.52,889.88L1243.33,892.07L1243.33,894.89L1228.44,894.89L1228.44,892.07L1223.58,892.07L1221.54,889.72L1221.54,886.9L1217.47,886.9L1217.47,869.19L1221.54,865.74L1221.54,861.2ZM1227.24,864.8L1228.54,864.8L1228.54,866.1L1227.24,866.1Z" fill="#0000d4" fill-rule="evenodd"/><path d="M1283.52,766.73L1303.27,766.73L1303.42,767.76L1305.3,767.76L1305.3,772.62L1306.4,773.72L1308.28,773.72L1308.28,775.44L1310.48,777.95L1312.35,777.95L1312.35,792.68L1310.48,792.68L1308.28,794.88L1308.28,797.7L1305.46,797.7L1303.27,799.89L1303.27,802.71L1288.38,802.71L1288.38,799.89L1283.52,799.89L1281.48,797.54L1281.48,794.72L1277.41,794.72L1277.41,777.01L1281.48,773.56L1281.48,769.02ZM1287.18,772.62L1288.48,772.62L1288.48,773.92L1287.18,773.92Z" fill="#0000d4" fill-rule="evenodd"/><path d="M1348.07,674.55L1367.82,674.55L1367.97,675.58L1369.85,675.58L1369.85,680.44L1370.95,681.54L1372.83,681.54L1372.83,683.26L1375.03,685.77L1376.9,685.77L1376.9,700.5L1375.03,700.5L1372.83,702.7L1372.83,705.52L1370.01,705.52L1367.82,707.71L1367.82,710.53L1352.93,710.53L1352.93,707.71L1348.07,707.71L1346.03,705.36L1346.03,702.54L1341.96,702.54L1341.96,684.83L1346.03,681.38L1346.03,676.84ZM1351.73,680.44L1353.03,680.44L1353.03,681.74L1351.73,681.74Z" fill="#0000d4" fill-rule="evenodd"/><path d="M1412.63,591.59L1432.38,591.59L1432.53,592.62L1434.41,592.62L1434.41,597.48L1435.51,598.58L1437.39,598.58L1437.39,600.3L1439.59,602.81L1441.46,602.81L1441.46,617.54L1439.59,617.54L1437.39,619.74L1437.39,622.56L1434.57,622.56L1432.38,624.75L1432.38,627.57L1417.49,627.57L1417.49,624.75L1412.63,624.75L1410.59,622.4L1410.59,619.58L1406.52,619.58L1406.52,601.87L1410.59,598.42L1410.59,593.88ZM1416.29,597.48L1417.59,597.48L1417.59,598.78L1416.29,598.78Z" fill="#0000d4" fill-rule="evenodd"/><path d="M1472.57,513.24L1492.32,513.24L1492.47,514.27L1494.35,514.27L1494.35,519.13L1495.45,520.23L1497.33,520.23L1497.33,521.95L1499.53,524.46L1501.4,524.46L1501.4,539.19L1499.53,539.19L1497.33,541.39L1497.33,544.21L1494.51,544.21L1492.32,546.4L1492.32,549.22L1477.43,549.22L1477.43,546.4L1472.57,546.4L1470.53,544.05L1470.53,541.23L1466.46,541.23L1466.46,523.52L1470.53,520.07L1470.53,515.53ZM1476.23,519.13L1477.53,519.13L1477.53,520.43L1476.23,520.43Z" fill="#0000d4" fill-rule="evenodd"/><path d="M1537.13,434.88L1556.88,434.88L1557.03,435.91L1558.91,435.91L1558.91,440.77L1560.01,441.87L1561.89,441.87L1561.89,443.59L1564.09,446.1L1565.96,446.1L1565.96,460.83L1564.09,460.83L1561.89,463.03L1561.89,465.85L1559.07,465.85L1556.88,468.04L1556.88,470.86L1541.99,470.86L1541.99,468.04L1537.13,468.04L1535.09,465.69L1535.09,462.87L1531.02,462.87L1531.02,445.16L1535.09,441.71L1535.09,437.17ZM1540.79,440.77L1542.09,440.77L1542.09,442.07L1540.79,442.07Z" fill="#0000d4" fill-rule="evenodd"/><path d="M1597.07,402.62L1616.82,402.62L1616.97,403.65L1618.85,403.65L1618.85,408.51L1619.95,409.61L1621.83,409.61L1621.83,411.33L1624.03,413.84L1625.9,413.84L1625.9,428.57L1624.03,428.57L1621.83,430.77L1621.83,433.59L1619.01,433.59L1616.82,435.78L1616.82,438.6L1601.93,438.6L1601.93,435.78L1597.07,435.78L1595.03,433.43L1595.03,430.61L1590.96,430.61L1590.96,412.9L1595.03,409.45L1595.03,404.91ZM1600.73,408.51L1602.03,408.51L1602.03,409.81L1600.73,409.81Z" fill="#0000d4" fill-rule="evenodd"/></g>
</g>
<g id="labels">
<text x="256.18 281.67" y="1739.29 1737.8" font-size="86">-2</text>
<text x="570.01 599.43" y="1739.56 1737.85" font-size="87">-1</text>
<text x="897.14" y="1738" font-size="86">0</text>
<text x="1212.53" y="1737.9" font-size="87">1</text>
<text x="1521.67" y="1737.85" font-size="86">2</text>
<text x="1838.72" y="1737.9" font-size="86">3</text>
<text transform="translate(207.63 97.2) scale(1.030 1)" x="0" y="0" font-size="86">6</text>
<text transform="translate(210.65 410.2) scale(0.960 1)" x="0" y="0" font-size="86">5</text>
<text transform="translate(208.92 722.8) scale(0.975 1)" x="0" y="0" font-size="86">4</text>
<text transform="translate(210.81 1037) scale(0.960 1)" x="0" y="0" font-size="86">3</text>
<text transform="translate(207.51 1349.8) scale(1.025 1)" x="0" y="0" font-size="86">2</text>
<text x="211.43" y="1662.8" font-size="87">1</text>
<text x="870.31 887.25 934.35 981.35 1001.98 1025.52 1082.46 1109.56 1137.6 1178.64 1198.9 1232.3 1259.34" y="1857 1857 1857 1857 1857 1857 1857 1857 1857 1811.43 1810.8 1857 1857" font-size="84.5">log [<tspan font-size="86.5" style="font-family:'Liberation Serif','DejaVu Serif',serif">ω</tspan> (s<tspan font-size="56.2">-1</tspan>)]</text>
<text x="456.87 505.56 552.64 600.47 615.33 652.73" y="321.8 321.8 321.8 321.8 326.37 322.4" font-size="86">250 <tspan font-size="101">°</tspan>C</text>
<text x="403.47 468.63 486.73" y="1239.3 1238.57 1238.57" font-size="86">G''</text>
<text x="799.27 865.63" y="1465.7 1465.47" font-size="86">G'</text>
<rect x="605.06" y="1729.75" width="16.25" height="9.1" fill="#fff"/>
<rect x="629" y="1729.75" width="15.57" height="9.1" fill="#fff"/>
<rect x="1218.16" y="1729.8" width="16.25" height="9.1" fill="#fff"/>
<rect x="1242.1" y="1729.8" width="15.57" height="9.1" fill="#fff"/>
<rect x="217.06" y="1654.7" width="16.25" height="9.1" fill="#fff"/>
<rect x="241" y="1654.7" width="15.57" height="9.1" fill="#fff"/>
<rect x="1202.18" y="1805" width="10.85" height="6.8" fill="#fff"/>
<rect x="1218" y="1805" width="10.41" height="6.8" fill="#fff"/>
<text transform="translate(100 0) rotate(-90)" x="-1294.79 -1276.45 -1230.55 -1183.55 -1160.92 -1136.65 -1071.29 -1055.16 -1028.94 -1000.53 -945.59 -895.7 -868.56 -847.59 -824.11 -800.69 -782.25 -735.25 -688.25 -667.12 -643.15 -577.79 -563.39 -547.26 -521.24 -492.83 -437.69 -387.6 -360.76" y="0" font-size="84.5">log [G' (Pa)], log [G'' (Pa)]</text>
</g>
</svg>
</body>
</html>
